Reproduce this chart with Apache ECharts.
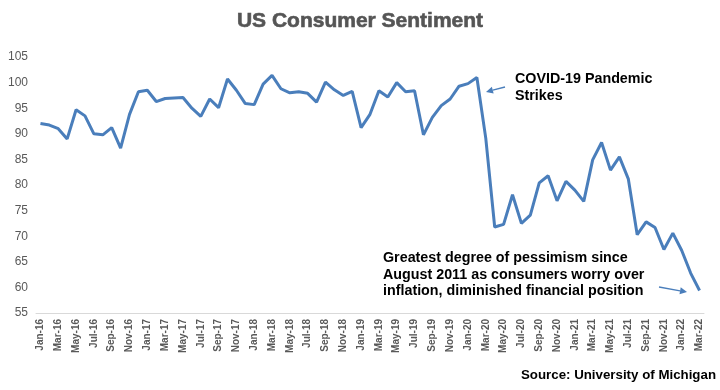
<!DOCTYPE html>
<html>
<head>
<meta charset="utf-8">
<script src="https://cdn.jsdelivr.net/npm/echarts@6/dist/echarts.min.js"></script>
<style>html,body{margin:0;padding:0;background:#fff}#c{width:720px;height:390px}</style>
</head>
<body>
<div id="c"></div>
<script>
const months = ['Jan','Feb','Mar','Apr','May','Jun','Jul','Aug','Sep','Oct','Nov','Dec'];
const years = ['16','17','18','19','20','21','22'];
const categories = [];
years.forEach(y => months.forEach(m => categories.push(m + '-' + y)));
categories.length = 75; // Jan-16 .. Mar-22

const sentiment2016 = [92.0, 91.7, 91.0, 89.0, 94.7, 93.5, 90.0, 89.8, 91.2, 87.2, 93.8, 98.2];
const sentiment2017 = [98.5, 96.3, 96.9, 97.0, 97.1, 95.0, 93.4, 96.8, 95.1, 100.7, 98.5, 95.9];
const sentiment2018 = [95.7, 99.7, 101.4, 98.8, 98.0, 98.2, 97.9, 96.2, 100.1, 98.6, 97.5, 98.3];
const sentiment2019 = [91.2, 93.8, 98.4, 97.2, 100.0, 98.2, 98.4, 89.8, 93.2, 95.5, 96.8, 99.3];
const sentiment2020 = [99.8, 101.0, 89.1, 71.8, 72.3, 78.1, 72.5, 74.1, 80.4, 81.8, 76.9, 80.7];
const sentiment2021 = [79.0, 76.8, 84.9, 88.3, 82.9, 85.5, 81.2, 70.3, 72.8, 71.7, 67.4, 70.6];
const sentiment2022 = [67.2, 62.8, 59.4];
const values = [].concat(sentiment2016, sentiment2017, sentiment2018, sentiment2019, sentiment2020, sentiment2021, sentiment2022);

const titleText = 'US Consumer Sentiment';
const sourceText = 'Source: University of Michigan';
const note1 = 'COVID-19 Pandemic\nStrikes';
const note2 = 'Greatest degree of pessimism since\nAugust 2011 as consumers worry over\ninflation, diminished financial position';

const chart = echarts.init(document.getElementById('c'));
const font = 'Liberation Sans, Arial, sans-serif';
const arrowColor = '#4a7ebb';
function arrow(x1, y1, x2, y2) {
  const a = Math.atan2(y2 - y1, x2 - x1), L = 7, W = 3.5;
  const bx = x2 - L * Math.cos(a), by = y2 - L * Math.sin(a);
  const px = -Math.sin(a) * W, py = Math.cos(a) * W;
  return [
    {type: 'line', shape: {x1: x1, y1: y1, x2: bx, y2: by}, style: {stroke: arrowColor, lineWidth: 1.3}},
    {type: 'polygon', shape: {points: [[x2, y2], [bx + px, by + py], [bx - px, by - py]]}, style: {fill: arrowColor}}
  ];
}
chart.setOption({
  animation: false,
  backgroundColor: '#fff',
  title: {
    text: titleText, left: 'center', top: 6,
    textStyle: {fontFamily: font, fontSize: 21, fontWeight: 900, color: '#555555', textBorderColor: '#555555', textBorderWidth: 0.6}
  },
  grid: {left: 36, right: 16, top: 57, bottom: 77, containLabel: false},
  xAxis: {
    type: 'category', data: categories, boundaryGap: true,
    axisLine: {lineStyle: {color: '#d9d9d9'}},
    axisTick: {interval: 1, lineStyle: {color: '#d9d9d9'}, length: 5},
    axisLabel: {interval: 1, rotate: 90, fontFamily: font, fontSize: 10, fontWeight: 'bold', color: '#595959', margin: 6}
  },
  yAxis: {
    type: 'value', min: 55, max: 105, interval: 5,
    axisLine: {show: false}, axisTick: {show: false}, splitLine: {show: false},
    axisLabel: {fontFamily: font, fontSize: 12, color: '#595959', margin: 8}
  },
  series: [{
    type: 'line', data: values, symbol: 'none',
    lineStyle: {color: '#4a7ebb', width: 3}, itemStyle: {color: '#4a7ebb'}
  }],
  graphic: [
    {type: 'text', left: 515, top: 70, style: {text: note1, font: 'bold 14.3px ' + font, fill: '#000', lineHeight: 17.5}},
    {type: 'text', left: 383, top: 250, style: {text: note2, font: 'bold 14.3px ' + font, fill: '#000', lineHeight: 16.5}},
    {type: 'text', right: 4, top: 369, style: {text: sourceText, font: 'bold 13.3px ' + font, fill: '#000'}}
  ].concat(arrow(505, 87, 486, 92), arrow(659, 287, 687, 292))
});
</script>
</body>
</html>
